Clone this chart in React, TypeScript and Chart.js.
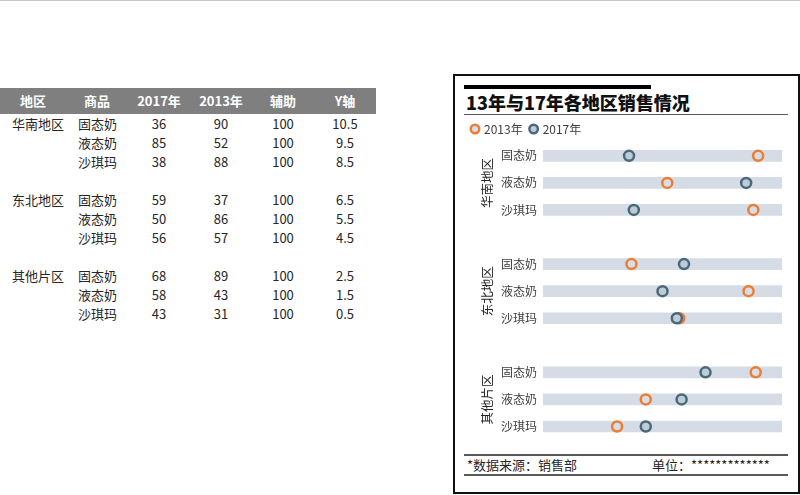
import React, { useEffect, useRef } from 'react';
import { Chart, registerables } from 'chart.js';

Chart.register(...registerables);

// ---------- data ----------
const tableHeaders = ['地区', '商品', '2017年', '2013年', '辅助', 'Y轴'];
const regions = ['华南地区', '东北地区', '其他片区'];
const rowRegions = ['华南地区', '', '', '东北地区', '', '', '其他片区', '', ''];
const rowProducts = ['固态奶', '液态奶', '沙琪玛', '固态奶', '液态奶', '沙琪玛', '固态奶', '液态奶', '沙琪玛'];
const sales2017 = [36, 85, 38, 59, 50, 56, 68, 58, 43];
const sales2013 = [90, 52, 88, 37, 86, 57, 89, 43, 31];
const auxValues = [100, 100, 100, 100, 100, 100, 100, 100, 100];
const yPositions = [10.5, 9.5, 8.5, 6.5, 5.5, 4.5, 2.5, 1.5, 0.5];
const groupCenters = [9.5, 5.5, 1.5];
const chartTitle = '13年与17年各地区销售情况';
const sourceText = '*数据来源：销售部';
const unitText = '单位：*************';

const FONT = '"Noto Sans CJK SC", "Microsoft YaHei", sans-serif';

const groupLabelPlugin = {
  id: 'groupLabels',
  afterDraw(chart: any) {
    const { ctx, scales } = chart;
    const y = scales.y;
    ctx.save();
    ctx.font = `12.5px ${FONT}`;
    ctx.fillStyle = '#262626';
    ctx.textAlign = 'center';
    ctx.textBaseline = 'middle';
    regions.forEach((r, i) => {
      const cy = y.getPixelForValue(groupCenters[i]);
      ctx.save();
      ctx.translate(chart.chartArea.left - 56, cy);
      ctx.rotate(-Math.PI / 2);
      ctx.fillText(r, 0, 0);
      ctx.restore();
    });
    ctx.restore();
  },
};

function productAt(v: number): string {
  const i = yPositions.indexOf(v);
  return i >= 0 ? rowProducts[i] : '';
}

function DumbbellChart() {
  const ref = useRef<HTMLCanvasElement | null>(null);
  useEffect(() => {
    if (!ref.current) return;
    const chart = new Chart(ref.current, {
      type: 'scatter',
      data: {
        datasets: [
          {
            label: '2013年',
            data: yPositions.map((y, i) => ({ x: sales2013[i], y })),
            order: 2,
            pointRadius: 5,
            pointHoverRadius: 5,
            borderWidth: 2.5,
            borderColor: '#ED7D31',
            backgroundColor: '#D8DEE7',
            clip: false,
          } as any,
          {
            label: '2017年',
            data: yPositions.map((y, i) => ({ x: sales2017[i], y })),
            order: 1,
            pointRadius: 5,
            pointHoverRadius: 5,
            borderWidth: 2.5,
            borderColor: '#47697A',
            backgroundColor: '#BFCCD8',
            clip: false,
          } as any,
          {
            type: 'bar',
            label: '辅助',
            data: yPositions.map((y, i) => ({ x: auxValues[i], y })),
            indexAxis: 'y',
            order: 3,
            backgroundColor: '#D6DCE5',
            borderWidth: 0,
            barThickness: 11,
          } as any,
        ],
      },
      options: {
        animation: false,
        responsive: false,
        maintainAspectRatio: false,
        layout: { autoPadding: false, padding: { left: 9, right: 14, top: 0, bottom: 0 } },
        plugins: {
          legend: {
            display: true,
            position: 'top',
            align: 'start',
            labels: {
              usePointStyle: true,
              pointStyle: 'circle',
              boxWidth: 6,
              boxHeight: 6,
              padding: 8,
              color: '#404040',
              font: { size: 12, family: FONT },
              filter: (item: any) => item.text !== '辅助',
              sort: (a: any, b: any) => a.text.localeCompare(b.text),
            },
          },
          tooltip: { enabled: false },
          title: { display: false },
        },
        scales: {
          x: { type: 'linear', min: 0, max: 100, display: false, offset: false },
          y: {
            type: 'linear',
            min: 0,
            max: 10.9,
            offset: false,
            afterBuildTicks: (s: any) => {
              s.ticks = yPositions.map((v) => ({ value: v }));
            },
            afterFit: (s: any) => {
              s.width = 79;
              s.paddingTop = 0;
              s.paddingBottom = 0;
            },
            grid: { display: false, drawTicks: false, offset: false },
            border: { display: false },
            ticks: {
              padding: 6,
              color: '#404040',
              font: { size: 12, family: FONT },
              callback: (v: any) => productAt(Number(v)),
            },
          },
        },
      } as any,
      plugins: [groupLabelPlugin],
    });
    return () => chart.destroy();
  }, []);
  return <canvas ref={ref} width={341} height={325} style={{ position: 'absolute', left: 455, top: 115, width: 341, height: 325 }} />;
}

const colCenters = [33, 97, 159, 221, 283, 345];

function DataTable() {
  const rowY = (r: number) => 124 + r * 19;
  const cells: React.ReactNode[] = [];
  const dataRowIndex = [0, 1, 2, 4, 5, 6, 8, 9, 10];
  dataRowIndex.forEach((r, i) => {
    const cy = rowY(r);
    const base: React.CSSProperties = { position: 'absolute', top: cy - 10, height: 20, lineHeight: '20px', fontSize: 13, color: '#262626', whiteSpace: 'nowrap' };
    if (rowRegions[i]) cells.push(<div key={`rg${i}`} style={{ ...base, left: 12 }}>{rowRegions[i]}</div>);
    cells.push(<div key={`pd${i}`} style={{ ...base, left: 78 }}>{rowProducts[i]}</div>);
    const nums = [sales2017[i], sales2013[i], auxValues[i], yPositions[i]];
    nums.forEach((n, j) => {
      cells.push(
        <div key={`n${i}-${j}`} style={{ ...base, left: colCenters[j + 2] - 30, width: 60, textAlign: 'center' }}>{String(n)}</div>
      );
    });
  });
  return (
    <>
      <div style={{ position: 'absolute', left: 0, top: 88, width: 376, height: 26, background: '#7F7F7F' }} />
      {tableHeaders.map((h, j) => (
        <div key={`h${j}`} style={{ position: 'absolute', top: 88, height: 26, lineHeight: '26px', left: colCenters[j] - 30, width: 60, textAlign: 'center', color: '#fff', fontWeight: 'bold', fontSize: 13 }}>{h}</div>
      ))}
      {cells}
    </>
  );
}

export default function App() {
  return (
    <div style={{ position: 'fixed', left: 0, top: 0, width: 800, height: 495, background: '#fff', fontFamily: FONT, overflow: 'hidden' }}>
      <div style={{ position: 'absolute', left: 0, top: 0, width: 800, height: 1, background: '#c8c8c8' }} />
      <DataTable />
      {/* chart frame */}
      <div style={{ position: 'absolute', left: 453, top: 74, width: 343, height: 416, border: '2px solid #111' }} />
      <div style={{ position: 'absolute', left: 464, top: 85, width: 187, height: 4, background: '#000' }} />
      <div style={{ position: 'absolute', left: 466, top: 90, height: 24, lineHeight: '24px', fontSize: 18, fontWeight: 900, color: '#111', whiteSpace: 'nowrap' }}>{chartTitle}</div>
      <div style={{ position: 'absolute', left: 464, top: 114, width: 324, height: 1, background: '#595959' }} />
      <DumbbellChart />
      <div style={{ position: 'absolute', left: 464, top: 454, width: 324, height: 1.5, background: '#595959' }} />
      <div style={{ position: 'absolute', left: 467, top: 456, height: 18, lineHeight: '18px', fontSize: 13, color: '#262626', whiteSpace: 'nowrap' }}>{sourceText}</div>
      <div style={{ position: 'absolute', left: 652, top: 456, height: 18, lineHeight: '18px', fontSize: 13, color: '#262626', whiteSpace: 'nowrap' }}>{unitText}</div>
      <div style={{ position: 'absolute', left: 464, top: 474, width: 324, height: 1.5, background: '#595959' }} />
    </div>
  );
}
